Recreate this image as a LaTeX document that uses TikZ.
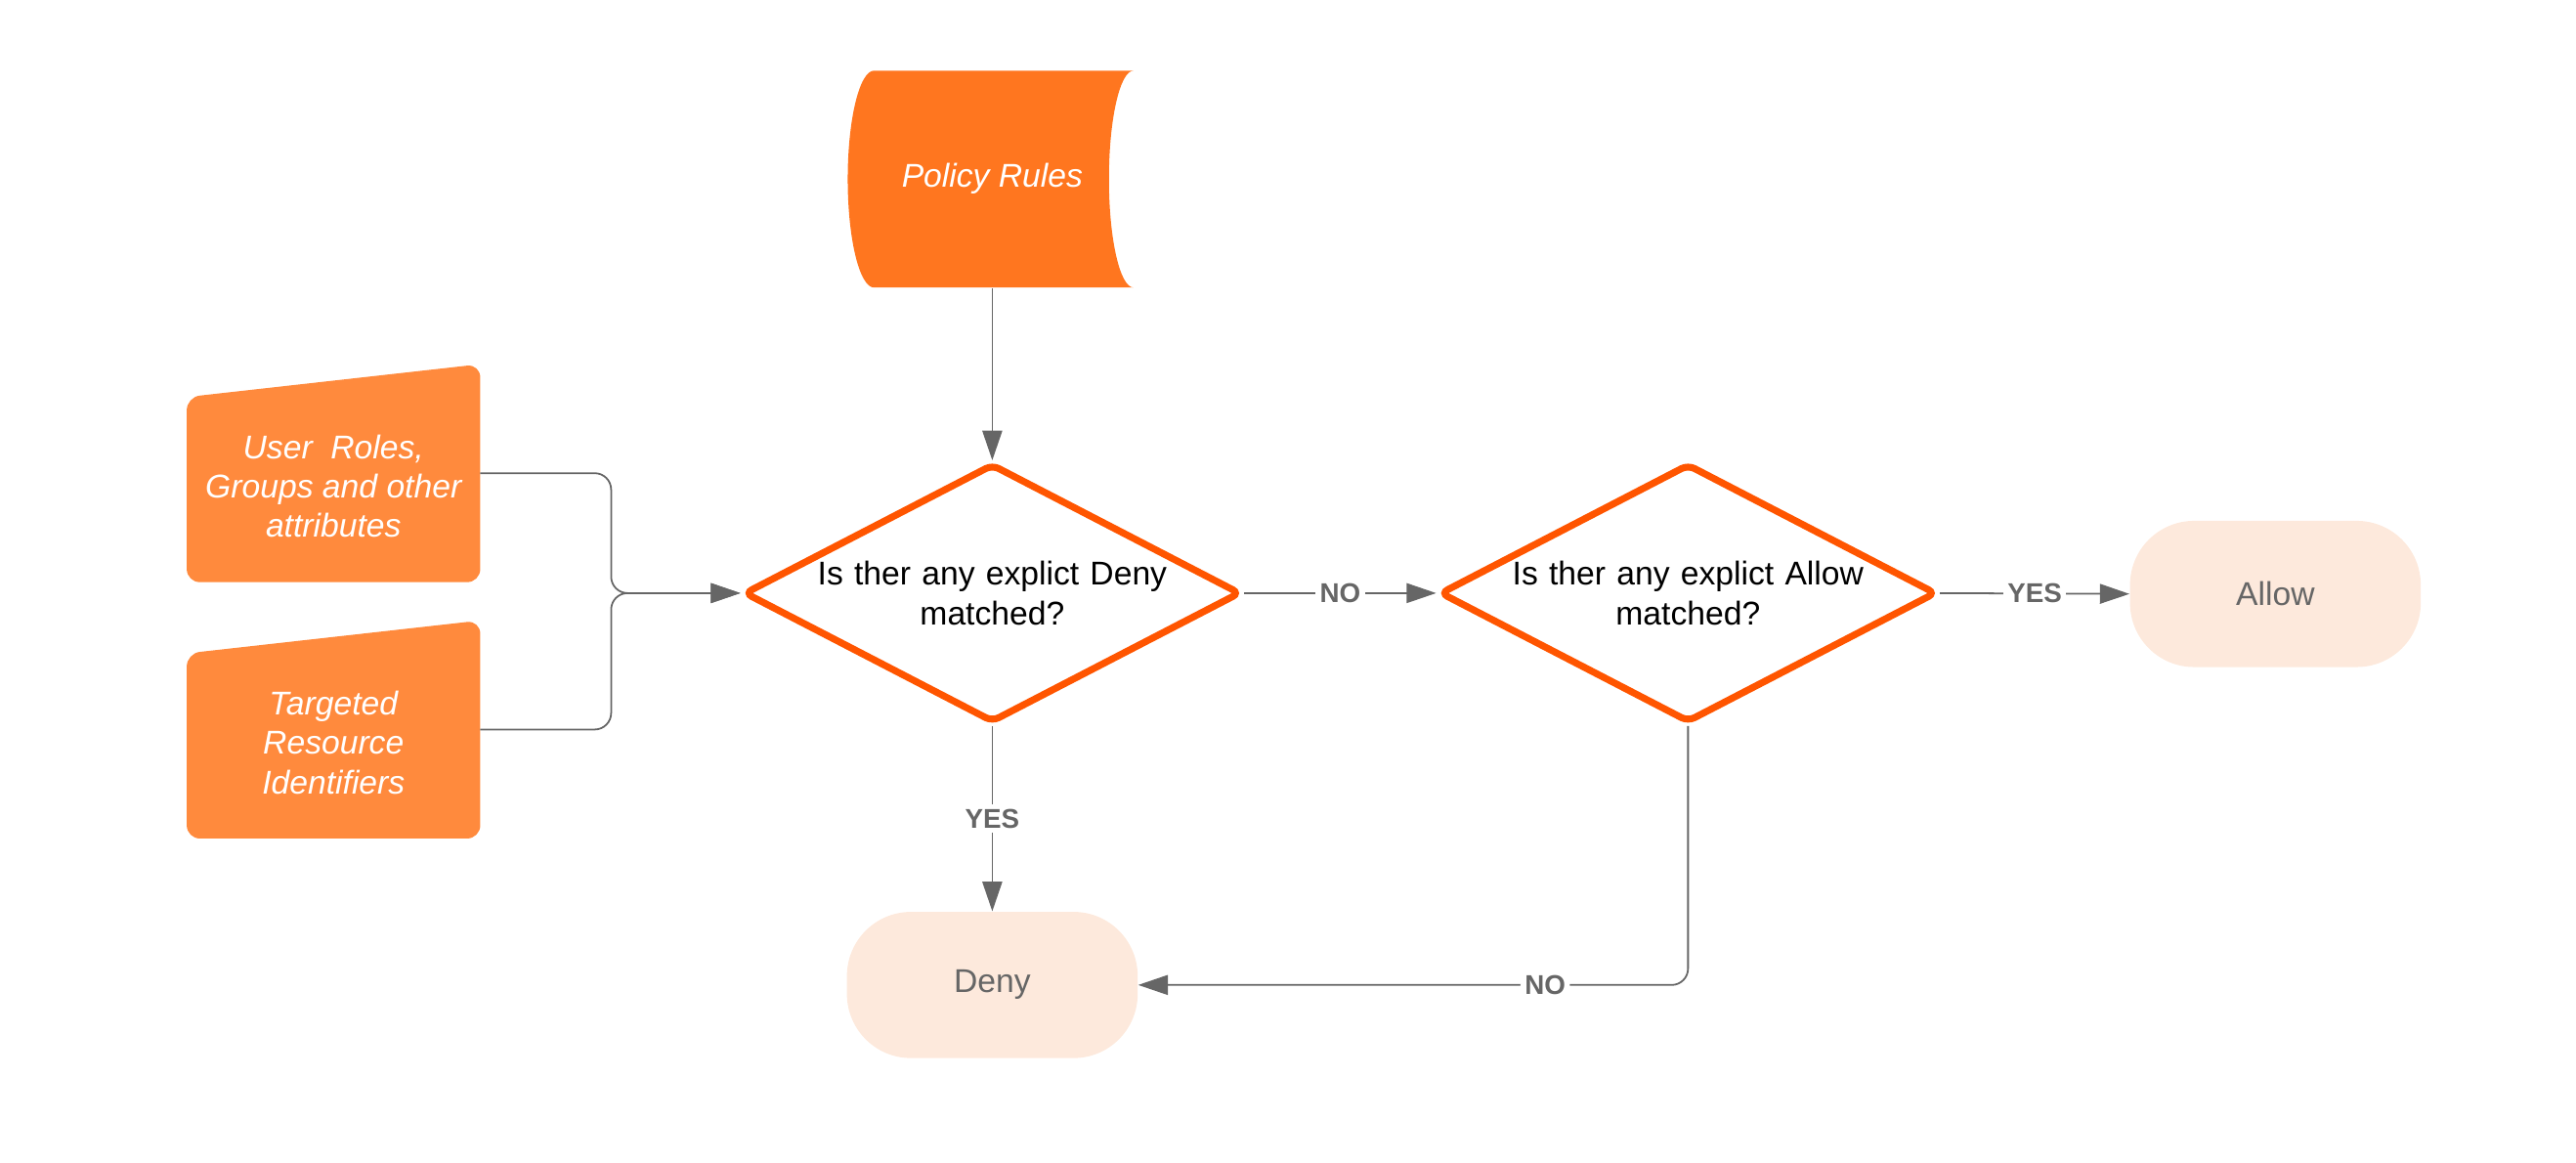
\documentclass[tikz,border=0pt]{standalone}
\usepackage{fontspec}
\setmainfont{Liberation Sans}
\usetikzlibrary{shapes.geometric, arrows.meta}
\pgfdeclarelayer{bg}
\pgfsetlayers{bg, main}
\definecolor{rulefill}{HTML}{FF761F}
\definecolor{boxfill}{HTML}{FF8A3D}
\definecolor{askline}{HTML}{FF5500}
\definecolor{endfill}{HTML}{FDE9DC}
\definecolor{linegray}{HTML}{666666}

\begin{document}
\begin{tikzpicture}[x=.02cm, y=-.02cm, >={Triangle[length=.36cm, width=.24cm]},
    every node/.style={font=\fontsize{11.4}{13.6}\selectfont},
    ask/.style={diamond, aspect=1.9, draw=askline, line width=2.4pt, fill=white, rounded corners=2.5pt,
        minimum width=6.05cm, minimum height=3.15cm, inner sep=0pt, text width=4.3cm, align=center},
    endbox/.style={rectangle, fill=endfill, rounded corners=.78cm, minimum width=3.54cm,
        minimum height=1.78cm, text=linegray},
    inbox/.style={minimum width=3.56cm, minimum height=2.64cm, inner sep=0pt},
    intext/.style={text=white, font=\fontsize{11.4}{13.6}\selectfont\itshape, align=center},
    conn/.style={draw=linegray, line width=.6pt, ->},
    lab/.style={fill=white, text=linegray, inner sep=1.5pt, font=\fontsize{9.4}{11}\selectfont\bfseries}]
    \useasboundingbox (0, 0) rectangle (1568, 707.3);
    \node [inbox, intext, minimum width=3.48cm] (rules) at (604, 109) {Policy Rules};
    \node [inbox, label={[intext, yshift=-.16cm]center:User\ \ Roles,\\Groups and other\\attributes}] (roles) at (203, 288) {};
    \node [inbox, label={[intext, yshift=-.16cm]center:Targeted\\Resource\\Identifiers}] (target) at (203, 444) {};
    \node [ask] (ask1) at (604, 361) {Is ther any explict Deny\\matched?};
    \node [ask] (ask2) at (1027.5, 361) {Is ther any explict Allow\\matched?};
    \node [endbox] (allow) at (1385, 361.5) {Allow};
    \node [endbox] (deny) at (604, 599.5) {Deny};
    \coordinate (join) at (372, 361);
    \begin{pgfonlayer}{bg}
    \fill [rulefill] (532, 43) -- (690, 43) .. controls (681.7, 43) and (675, 72.6) .. (675, 109)
        .. controls (675, 145.4) and (681.7, 175) .. (690, 175) -- (532, 175)
        .. controls (523.2, 175) and (516, 145.4) .. (516, 109)
        .. controls (516, 72.6) and (523.2, 43) .. (532, 43) -- cycle;
    \foreach \b in {roles, target}
    \fill [boxfill, rounded corners=.16cm] (\b.south west) -- ([yshift=-.4cm]\b.north west) --
        (\b.north east) -- (\b.south east) -- cycle;
    \end{pgfonlayer}
    \draw [conn] (rules.south) -- (ask1.north);
    \foreach \b in {roles, target}
    \draw [conn, rounded corners=.2cm] (\b.east) -| (join) -- (ask1.west);
    \draw [conn] (ask1.east) -- node [lab] {NO} (ask2.west);
    \draw [conn] (ask2.east) -- node [lab] {YES} (allow.west);
    \draw [conn] (ask1.south) -- node [lab] {YES} (deny.north);
    \draw [conn, rounded corners=.2cm] (ask2.south) |- node [lab, pos=.63] {NO} (deny.east);
\end{tikzpicture}
\end{document}
